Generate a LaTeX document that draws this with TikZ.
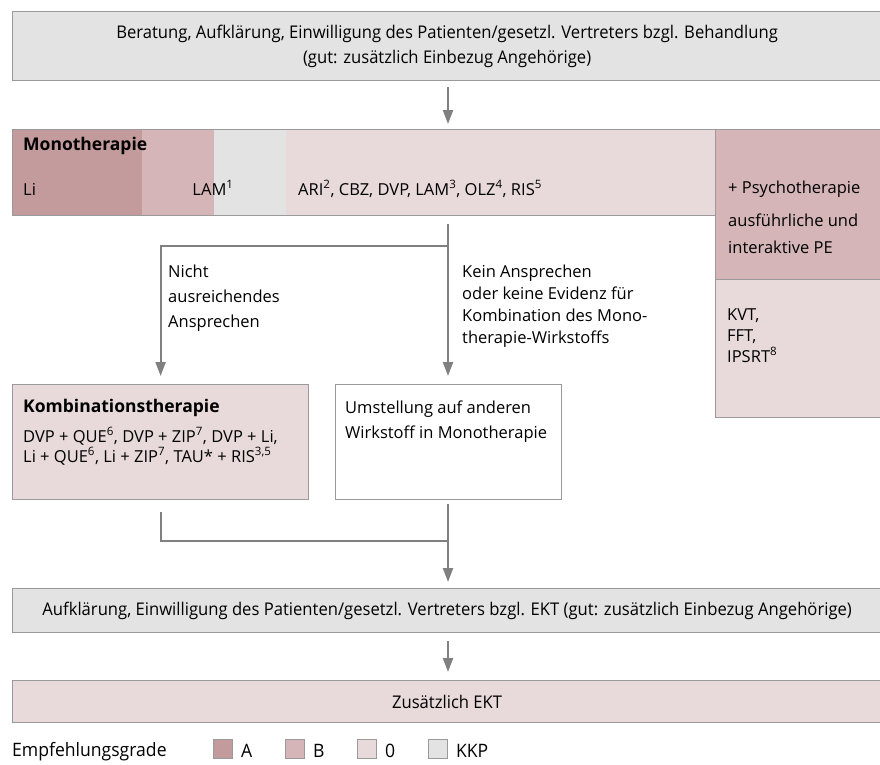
\documentclass[tikz,border=0pt]{standalone}
\usepackage{fontspec}
\setmainfont{Open Sans}
\newfontfamily\condfont[FakeStretch=0.95]{Open Sans}
\usetikzlibrary{positioning, arrows.meta, calc}

\definecolor{gradA}{HTML}{C49B9C}
\definecolor{gradB}{HTML}{D5B5B7}
\definecolor{gradO}{HTML}{E8DADA}
\definecolor{gradKKP}{HTML}{E3E3E3}
\definecolor{rahmen}{HTML}{9A9A9A}
\definecolor{pfeil}{HTML}{808080}

\begin{document}
\begin{tikzpicture}[x=1pt, y=-1pt]
	% 定义样式
	\tikzset{
		box/.style={draw=rahmen, line width=1.2pt, anchor=north west, inner sep=0pt},
		txt/.style={anchor=base west, inner sep=0pt, align=left,
			font=\fontsize{16.5}{25}\selectfont},
		head/.style={txt, font=\bfseries\fontsize{17.5}{20}\selectfont},
		cond/.style={inner sep=0pt, align=center, font=\condfont\fontsize{17.5}{25}\selectfont},
		flow/.style={draw=pfeil, line width=2.2pt},
		arr/.style={flow, -{Triangle[length=14pt, width=10pt]}}
	}
	\useasboundingbox (0,0) rectangle (880,764);
	
	% 上方的说明框
	\node[box, fill=gradKKP, cond, minimum width=869pt, minimum height=69pt] (top) at (12,11)
		{Beratung, Aufklärung, Einwilligung des Patienten/gesetzl. Vertreters bzgl. Behandlung\\
		 (gut: zusätzlich Einbezug Angehörige)};
	
	% 单一疗法：按推荐等级着色
	\fill[gradA] (12,129) rectangle (142,215);
	\fill[gradB] (142,129) rectangle (214,215);
	\fill[gradKKP] (214,129) rectangle (286,215);
	\fill[gradO] (286,129) rectangle (715,215);
	\node[box, minimum width=703pt, minimum height=86pt] (mono) at (12,129) {};
	\node[head] (monohead) at (23,150) {Monotherapie};
	\node[txt] (li) at (23,195) {Li};
	\node[txt, anchor=base] (lam) at (213,195) {LAM\textsuperscript{1}};
	\node[txt] (monoO) at (298,195)
		{ARI\textsuperscript{2}, CBZ, DVP, LAM\textsuperscript{3}, OLZ\textsuperscript{4}, RIS\textsuperscript{5}};
	
	% 心理治疗（坐标为末行基线）
	\node[box, fill=gradB, minimum width=166pt, minimum height=150pt] (psy) at (715,129) {};
	\node[box, fill=gradO, minimum width=166pt, minimum height=138pt] (psyb) at (715,279) {};
	\node[txt, font=\fontsize{16.5}{27}\selectfont] (psytxt) at (728,253)
		{+ Psychotherapie\\[6pt]ausführliche und\\interaktive PE};
	\node[txt, font=\fontsize{16.5}{21}\selectfont] (psybtxt) at (727,362)
		{KVT,\\FFT,\\IPSRT\textsuperscript{8}};
	
	% 组合疗法与换药
	\node[box, fill=gradO, minimum width=296pt, minimum height=115pt] (kombi) at (12,384) {};
	\node[head] (kombihead) at (23,412) {Kombinationstherapie};
	\node[txt, font=\fontsize{16.5}{20}\selectfont] (kombitxt) at (23,462)
		{DVP + QUE\textsuperscript{6}, DVP + ZIP\textsuperscript{7}, DVP + Li,\\
		 Li + QUE\textsuperscript{6}, Li + ZIP\textsuperscript{7}, TAU* + RIS\textsuperscript{3,5}};
	\node[box, fill=white, minimum width=226pt, minimum height=115pt] (umst) at (335,384) {};
	\node[txt] (umsttxt) at (345,438) {Umstellung auf anderen\\Wirkstoff in Monotherapie};
	
	% 分支说明
	\node[txt] (nicht) at (168,327) {Nicht\\ausreichendes\\Ansprechen};
	\node[txt, font=\fontsize{16.5}{22}\selectfont] (kein) at (462,343)
		{Kein Ansprechen\\oder keine Evidenz für\\Kombination des Mono-\\therapie-Wirkstoffs};
	
	% EKT
	\node[box, fill=gradKKP, cond, minimum width=869pt, minimum height=44pt] (ekt) at (12,588)
		{Aufklärung, Einwilligung des Patienten/gesetzl. Vertreters bzgl. EKT (gut: zusätzlich Einbezug Angehörige)};
	\node[box, fill=gradO, cond, minimum width=869pt, minimum height=42pt] (zus) at (12,680)
		{Zusätzlich EKT};
	
	% 连线
	\coordinate (trunk) at (448,0);
	\coordinate (split) at (448,246);
	\coordinate (join) at (448,541);
	\draw[arr, shorten <=6pt, shorten >=5pt] (top.south -| trunk) -- (mono.north -| trunk);
	\draw[arr, shorten <=8pt, shorten >=8pt] (mono.south -| trunk) -- (umst.north -| trunk);
	\draw[arr, shorten >=8pt] (split) -| (kombi.north);
	\draw[flow, shorten <=12pt] (kombi.south) |- (join);
	\draw[arr, shorten <=4pt, shorten >=6pt] (umst.south -| trunk) -- (ekt.north -| trunk);
	\draw[arr, shorten <=8pt, shorten >=8pt] (ekt.south -| trunk) -- (zus.north -| trunk);
	
	% 图例
	\tikzset{legtxt/.style={inner sep=0pt, anchor=base west, font=\condfont\fontsize{18.5}{20}\selectfont}}
	\node[legtxt] (legend) at (12,756) {Empfehlungsgrade};
	\foreach \g/\x/\t in {A/213/A, B/285/B, O/357/0, KKP/428/KKP} {
		\node[draw=rahmen, fill=grad\g, line width=0.8pt, anchor=north west, minimum size=19pt,
			inner sep=0pt] (sq\g) at (\x,739) {};
		\node[legtxt] (lab\g) at ([xshift=8pt, yshift=1pt]sq\g.south east) {\t};
	}
\end{tikzpicture}
\end{document}
